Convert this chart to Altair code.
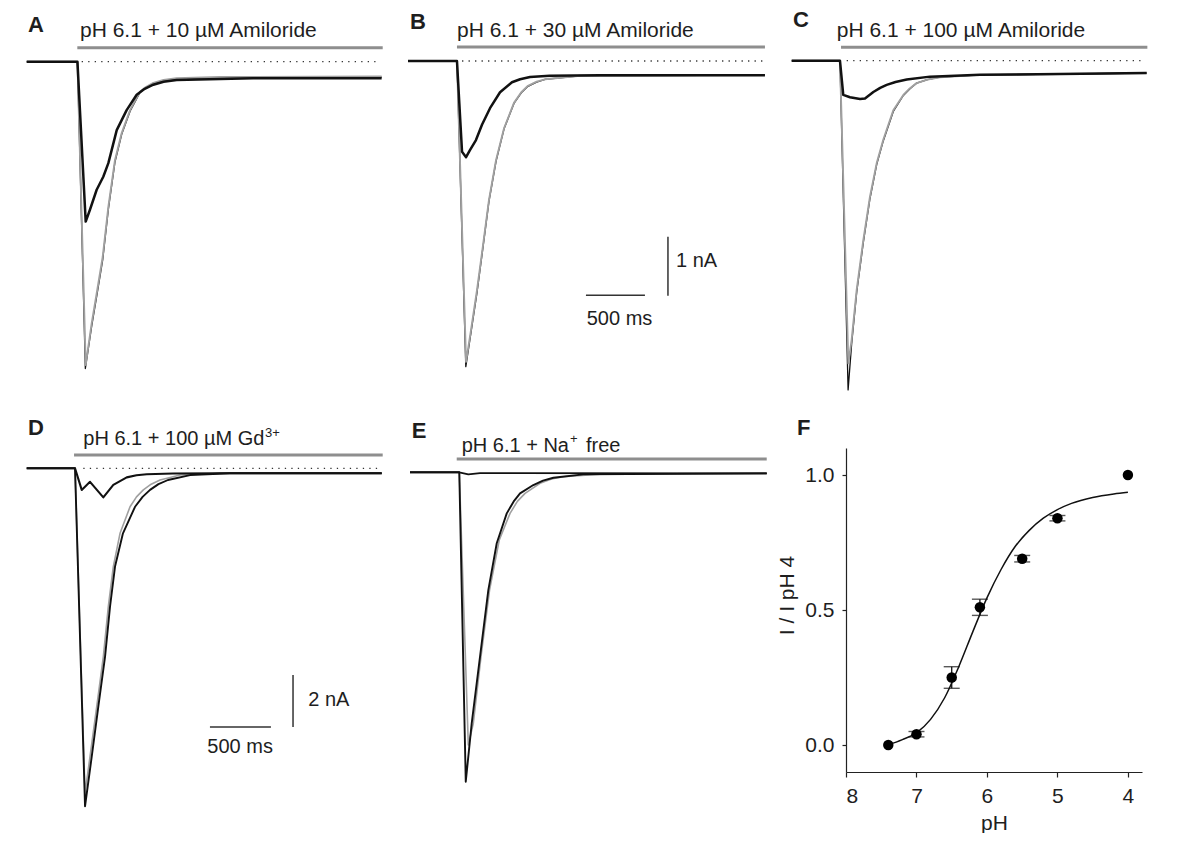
import altair as alt
import pandas as pd

# ---------------- data (time in ms from trace start, current in nA) ----------------
# Panel A : pH 6.1 + 10 uM amiloride
A_CTRL_T = [0, 430, 500, 551, 598, 644, 692, 748, 805, 876, 960, 1010, 1073, 1160, 1271, 1638, 3008]
A_CTRL_I = [0, 0, -5.14, -4.43, -3.87, -3.31, -2.46, -1.67, -1.21, -0.82, -0.51, -0.43, -0.36, -0.31, -0.28, -0.26, -0.25]
A_WASH_T = [0, 430, 497, 551, 598, 644, 692, 748, 805, 876, 960, 1010, 1073, 1160, 1271, 1638, 3008]
A_WASH_I = [0, 0, -5.20, -4.48, -3.92, -3.36, -2.50, -1.70, -1.23, -0.84, -0.52, -0.44, -0.37, -0.32, -0.29, -0.27, -0.26]
A_DRUG_T = [0, 430, 500, 536, 593, 649, 692, 763, 847, 932, 1000, 1073, 1160, 1271, 1918, 3008]
A_DRUG_I = [0, 0, -2.71, -2.51, -2.17, -1.95, -1.72, -1.16, -0.82, -0.56, -0.46, -0.39, -0.34, -0.31, -0.28, -0.28]

# Panel B : pH 6.1 + 30 uM amiloride
B_CTRL_T = [0, 415, 492, 534, 585, 636, 686, 746, 814, 898, 960, 1017, 1090, 1161, 1458, 3025]
B_CTRL_I = [0, 0, -5.10, -4.56, -3.88, -3.12, -2.36, -1.68, -1.14, -0.71, -0.53, -0.42, -0.35, -0.31, -0.25, -0.24]
B_WASH_T = [0, 415, 490, 534, 585, 636, 686, 746, 814, 898, 960, 1017, 1090, 1161, 1458, 3025]
B_WASH_I = [0, 0, -5.18, -4.60, -3.92, -3.15, -2.38, -1.70, -1.15, -0.72, -0.54, -0.43, -0.36, -0.31, -0.25, -0.24]
B_DRUG_T = [0, 415, 458, 492, 525, 576, 627, 695, 780, 881, 950, 1034, 1200, 1627, 3025]
B_DRUG_I = [0, 0, -1.54, -1.63, -1.51, -1.34, -1.08, -0.80, -0.53, -0.36, -0.31, -0.27, -0.25, -0.24, -0.24]

# Panel C : pH 6.1 + 100 uM amiloride
C_CTRL_T = [0, 409, 480, 508, 551, 607, 663, 720, 776, 861, 946, 1000, 1059, 1150, 1257, 1596, 3008]
C_CTRL_I = [0, 0, -5.13, -4.73, -3.88, -3.04, -2.31, -1.74, -1.34, -0.84, -0.58, -0.47, -0.38, -0.32, -0.28, -0.24, -0.21]
C_WASH_T = [0, 409, 478, 508, 551, 607, 663, 720, 776, 861, 946, 1000, 1059, 1150, 1257, 1596, 3008]
C_WASH_I = [0, 0, -5.58, -4.80, -3.92, -3.08, -2.34, -1.76, -1.36, -0.86, -0.59, -0.48, -0.38, -0.32, -0.28, -0.24, -0.21]
C_DRUG_T = [0, 409, 437, 494, 579, 621, 692, 750, 805, 880, 975, 1172, 1596, 3008]
C_DRUG_I = [0, 0, -0.58, -0.62, -0.65, -0.64, -0.53, -0.46, -0.41, -0.36, -0.32, -0.27, -0.24, -0.21]

# Panel D : pH 6.1 + 100 uM Gd3+
D_CTRL_T = [0, 396, 478, 519, 574, 628, 669, 710, 765, 847, 900, 956, 1020, 1093, 1257, 1584, 2910]
D_CTRL_I = [0, 0, -12.5, -11.09, -9.17, -7.25, -5.32, -3.78, -2.50, -1.48, -1.10, -0.83, -0.61, -0.45, -0.26, -0.19, -0.19]
D_WASH_T = [0, 396, 478, 533, 587, 642, 683, 724, 789, 888, 950, 1011, 1080, 1158, 1339, 1666, 2910]
D_WASH_I = [0, 0, -13.0, -11.09, -9.17, -7.25, -5.32, -3.78, -2.50, -1.48, -1.10, -0.83, -0.61, -0.45, -0.26, -0.19, -0.19]
D_DRUG_T = [0, 396, 451, 519, 628, 710, 820, 900, 984, 1200, 1584, 2910]
D_DRUG_I = [0, 0, -0.83, -0.52, -1.12, -0.64, -0.35, -0.27, -0.23, -0.20, -0.19, -0.19]

# Panel E : pH 6.1 + Na+ free
E_CTRL_T = [0, 404, 457, 506, 574, 642, 711, 793, 850, 902, 1011, 1090, 1175, 1420, 2924]
E_CTRL_I = [0, 0, -11.9, -9.65, -7.09, -4.53, -2.73, -1.58, -1.12, -0.81, -0.49, -0.32, -0.21, -0.08, -0.04]
E_GRAY_T = [0, 404, 478, 519, 582, 652, 732, 820, 880, 943, 1066, 1160, 1257, 1557, 2924]
E_GRAY_I = [0, 0, -10.49, -9.65, -7.09, -4.53, -2.60, -1.58, -1.12, -0.81, -0.42, -0.26, -0.17, -0.07, -0.04]
E_NAF_T = [0, 404, 478, 574, 2924]
E_NAF_I = [0, 0, -0.08, -0.03, -0.04]

# Panel F : pH dependence
F_PH = [7.4, 7.0, 6.5, 6.1, 5.5, 5.0, 4.0]
F_REL = [0.0, 0.04, 0.25, 0.51, 0.69, 0.84, 1.0]
F_SEM = [0.0, 0.01, 0.04, 0.03, 0.012, 0.01, 0.0]
FIT_PH = [7.41, 7.2, 7.0, 6.8, 6.6, 6.4, 6.2, 6.0, 5.8, 5.6, 5.4, 5.2, 5.0, 4.8, 4.5, 4.2, 4.0]
FIT_REL = [0.0, 0.02, 0.045, 0.095, 0.175, 0.29, 0.42, 0.545, 0.65, 0.735, 0.795, 0.84, 0.872, 0.895, 0.917, 0.93, 0.936]

# ---------------- styling / layout ----------------
FONT = "Liberation Sans"
TXT = "#1e1e1e"
GRAY = "#a0a0a0"
BARGRAY = "#8e8e8e"
KX_TOP, KY_TOP = 0.118, 59.0     # px per ms, px per nA (top row)
KX_BOT, KY_BOT = 0.122, 26.0     # bottom row
H_TOP, H_BOT = 392, 415


def domains(rect_left, w, origin_x, kx, rect_top, h, base_y, ky):
    t0 = -(origin_x - rect_left) / kx
    i1 = (base_y - rect_top) / ky
    return [t0, t0 + w / kx], [i1 - h / ky, i1]


def trace(t, i, color, width, xs, ys):
    df = pd.DataFrame({"t": t, "i": i})
    return alt.Chart(df).mark_line(color=color, strokeWidth=width, strokeJoin="round").encode(
        x=alt.X("t:Q", scale=xs, axis=None), y=alt.Y("i:Q", scale=ys, axis=None))


def text(s, x, y, size=20, weight="normal"):
    return alt.Chart(pd.DataFrame({"s": [s]})).mark_text(
        align="left", baseline="alphabetic", font=FONT, fontSize=size,
        fontWeight=weight, color=TXT).encode(text="s:N", x=alt.value(x), y=alt.value(y))


def appbar(t0, t1, ypx, xs):
    df = pd.DataFrame({"t0": [t0], "t1": [t1]})
    return alt.Chart(df).mark_rule(color=BARGRAY, strokeWidth=3).encode(
        x=alt.X("t0:Q", scale=xs, axis=None), x2="t1:Q", y=alt.value(ypx))


def dotted(t0, t1, xs, ys):
    df = pd.DataFrame({"t0": [t0], "t1": [t1]})
    return alt.Chart(df).mark_rule(color="#333333", strokeWidth=1.3, strokeDash=[1.3, 5.2]).encode(
        x=alt.X("t0:Q", scale=xs, axis=None), x2="t1:Q",
        y=alt.Y(datum=0, scale=ys, axis=None))


def scalebar(th0, th1, ih, tv, iv0, iv1, xs, ys):
    h = pd.DataFrame({"t0": [th0], "t1": [th1], "i": [ih]})
    v = pd.DataFrame({"t": [tv], "i0": [iv0], "i1": [iv1]})
    hb = alt.Chart(h).mark_rule(color="#333333", strokeWidth=1.5).encode(
        x=alt.X("t0:Q", scale=xs, axis=None), x2="t1:Q", y=alt.Y("i:Q", scale=ys, axis=None))
    vb = alt.Chart(v).mark_rule(color="#333333", strokeWidth=1.5).encode(
        x=alt.X("t:Q", scale=xs, axis=None), y=alt.Y("i0:Q", scale=ys, axis=None), y2="i1:Q")
    return [hb, vb]


def scales(left, w, ox, kx, top, h, by, ky):
    xd, yd = domains(left, w, ox, kx, top, h, by, ky)
    return (alt.Scale(domain=xd, nice=False, zero=False),
            alt.Scale(domain=yd, nice=False, zero=False))


# ---- Panel A ----
xs, ys = scales(8, 390, 26.7, KX_TOP, 8, H_TOP, 61.7, KY_TOP)
panelA = alt.layer(
    appbar(429, 3017, 39.7, xs),
    dotted(466, 2990, xs, ys),
    trace(A_WASH_T, A_WASH_I, "#111111", 1.3, xs, ys),
    trace(A_CTRL_T, A_CTRL_I, GRAY, 1.9, xs, ys),
    trace(A_DRUG_T, A_DRUG_I, "#111111", 2.5, xs, ys),
    text("A", 20, 23.7, 22, "bold"),
    text("pH 6.1 + 10 µM Amiloride", 72, 28.7, 21),
).properties(width=390, height=H_TOP)

# ---- Panel B ----
xs, ys = scales(403, 377, 408, KX_TOP, 8, H_TOP, 61, KY_TOP)
panelB = alt.layer(
    appbar(415, 3025, 39, xs),
    dotted(458, 3025, xs, ys),
    trace(B_WASH_T, B_WASH_I, "#111111", 1.3, xs, ys),
    trace(B_CTRL_T, B_CTRL_I, GRAY, 1.9, xs, ys),
    trace(B_DRUG_T, B_DRUG_I, "#111111", 2.5, xs, ys),
    *scalebar(1508, 2008, -3.97, 2203, -2.98, -3.98, xs, ys),
    text("B", 7, 21, 22, "bold"),
    text("pH 6.1 + 30 µM Amiloride", 54, 29, 21),
    text("1 nA", 273, 259, 20),
    text("500 ms", 183.7, 317, 20),
).properties(width=377, height=H_TOP)

# ---- Panel C ----
xs, ys = scales(785, 375, 791.7, KX_TOP, 8, H_TOP, 60.7, KY_TOP)
panelC = alt.layer(
    appbar(418, 3014, 39.3, xs),
    dotted(466, 2994, xs, ys),
    trace(C_WASH_T, C_WASH_I, "#111111", 1.3, xs, ys),
    trace(C_CTRL_T, C_CTRL_I, GRAY, 1.9, xs, ys),
    trace(C_DRUG_T, C_DRUG_I, "#111111", 2.5, xs, ys),
    text("C", 8, 19, 22, "bold"),
    text("pH 6.1 + 100 µM Amiloride", 51.7, 29.3, 21),
).properties(width=375, height=H_TOP)

# ---- Panel D ----
xs, ys = scales(8, 382, 26.7, KX_BOT, 408, H_BOT, 468.3, KY_BOT)
panelD = alt.layer(
    appbar(388, 2918, 47, xs),
    dotted(464, 2896, xs, ys),
    trace(D_CTRL_T, D_CTRL_I, GRAY, 1.6, xs, ys),
    trace(D_WASH_T, D_WASH_I, "#111111", 1.9, xs, ys),
    trace(D_DRUG_T, D_DRUG_I, "#111111", 2.1, xs, ys),
    *scalebar(1502, 2002, -9.95, 2183, -7.95, -9.95, xs, ys),
    text("D", 20, 27, 22, "bold"),
    text("pH 6.1 + 100 µM Gd", 75.3, 37, 20),
    text("3+", 257, 29, 13),
    text("2 nA", 300.3, 297.7, 20),
    text("500 ms", 199.3, 345.3, 20),
).properties(width=382, height=H_BOT)

# ---- Panel E ----
xs, ys = scales(400, 436, 410, KX_BOT, 408, H_BOT, 472.3, KY_BOT)
panelE = alt.layer(
    appbar(383, 2924, 51, xs),
    trace(E_GRAY_T, E_GRAY_I, GRAY, 1.6, xs, ys),
    trace(E_CTRL_T, E_CTRL_I, "#111111", 1.9, xs, ys),
    trace(E_NAF_T, E_NAF_I, "#111111", 1.8, xs, ys),
    text("E", 11.7, 30, 22, "bold"),
    text("pH 6.1 + Na", 61.7, 43.7, 20),
    text("+", 170, 35, 13),
    text("free", 186, 43.7, 20),
).properties(width=436, height=H_BOT)

# ---- Panel F ----
fx = alt.Scale(domain=[8, 3.8], nice=False, zero=False)
fy = alt.Scale(domain=[-0.1, 1.1], nice=False, zero=False)
pts = pd.DataFrame({"ph": F_PH, "rel": F_REL, "sem": F_SEM})
pts["lo"] = pts["rel"] - pts["sem"]
pts["hi"] = pts["rel"] + pts["sem"]
fit = pd.DataFrame({"ph": FIT_PH, "rel": FIT_REL})

xaxis = alt.Axis(values=[8, 7, 6, 5, 4], format="d", title="pH", grid=False,
                 tickSize=5, labelPadding=8, titlePadding=6)
yaxis = alt.Axis(values=[0, 0.5, 1.0], format=".1f", title="I / I pH 4", grid=False,
                 tickSize=4, labelPadding=8, titleAngle=270, titleX=-59, titleY=147,
                 titleAlign="center", titleBaseline="middle")

fitline = alt.Chart(fit).mark_line(color="#111111", strokeWidth=1.5, interpolate="monotone").encode(
    x=alt.X("ph:Q", scale=fx, axis=xaxis), y=alt.Y("rel:Q", scale=fy, axis=yaxis))
err = alt.Chart(pts).transform_filter("datum.sem > 0").mark_rule(color="#111111", strokeWidth=1.3).encode(
    x=alt.X("ph:Q", scale=fx), y=alt.Y("lo:Q", scale=fy), y2="hi:Q")
cap_lo = alt.Chart(pts).transform_filter("datum.sem > 0").mark_tick(
    orient="horizontal", size=16, thickness=1.4, color="#111111").encode(
    x=alt.X("ph:Q", scale=fx), y=alt.Y("lo:Q", scale=fy))
cap_hi = alt.Chart(pts).transform_filter("datum.sem > 0").mark_tick(
    orient="horizontal", size=16, thickness=1.4, color="#111111").encode(
    x=alt.X("ph:Q", scale=fx), y=alt.Y("hi:Q", scale=fy))
dots = alt.Chart(pts).mark_circle(size=110, color="#000000", opacity=1).encode(
    x=alt.X("ph:Q", scale=fx), y=alt.Y("rel:Q", scale=fy))

panelF = alt.layer(fitline, err, cap_lo, cap_hi, dots).properties(width=296, height=324)
labelF = text("F", -49, 27, 22, "bold").properties(width=296, height=40)
colF = alt.vconcat(labelF, panelF, spacing=0, bounds="flush")

top = alt.hconcat(panelA, panelB, panelC, spacing=5, bounds="flush")
bottom = alt.hconcat(panelD, panelE, colF, spacing=10, bounds="flush")

chart = alt.vconcat(top, bottom, spacing=8).properties(
    padding=0, background="white"
).configure_view(strokeWidth=0).configure_axis(
    labelFont=FONT, titleFont=FONT, labelFontSize=21, titleFontSize=21,
    titleFontWeight="normal", labelColor=TXT, titleColor=TXT,
    domainColor="#222222", tickColor="#222222", domainWidth=1.2, tickWidth=1.2
)

chart.save("out.html", embed_options={"renderer": "svg", "actions": False})
